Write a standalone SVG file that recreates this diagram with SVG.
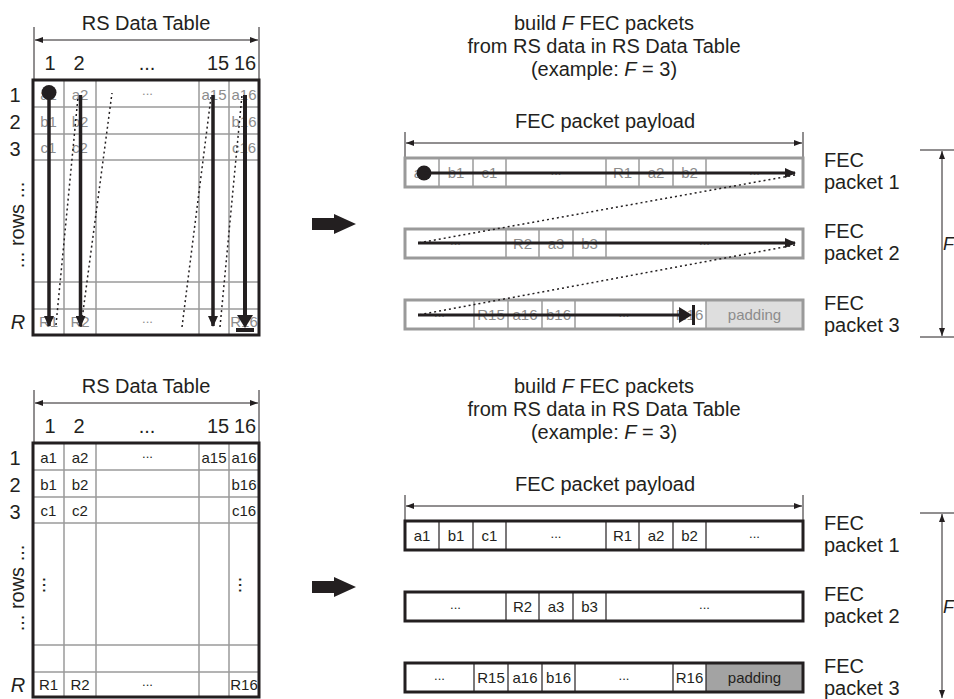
<svg xmlns="http://www.w3.org/2000/svg" width="954" height="699" viewBox="0 0 954 699">
<style>
text{font-family:"Liberation Sans",Arial,sans-serif;fill:#231f20}
.big{font-size:20px}
.mid{text-anchor:middle}
.cell{font-size:15px;text-anchor:middle}
.dots{font-size:13px;text-anchor:middle}
.g{fill:#8c8c8c}
.it{font-style:italic}
.fl{font-size:18px;font-style:italic}
.grid{stroke:#9a9a9a;stroke-width:1.5;fill:none}
.frame{stroke:#231f20;stroke-width:3;fill:none}
.gframe{stroke:#9a9a9a;stroke-width:3;fill:none}
.pdiv{stroke:#9a9a9a;stroke-width:1.5}
.bdiv{stroke:#231f20;stroke-width:1.2}
.dim{stroke:#231f20;stroke-width:1;fill:none}
.flow{stroke:#231f20;stroke-width:3.5;fill:none}
.dot{stroke:#231f20;stroke-width:1.5;stroke-dasharray:2 3;fill:none}
</style>
<defs>
<marker id="dimA" markerUnits="userSpaceOnUse" markerWidth="8" markerHeight="6" refX="8" refY="3" orient="auto-start-reverse"><path d="M0,0 L8,3 L0,6 z" fill="#231f20"/></marker>
<marker id="flowA" markerUnits="userSpaceOnUse" markerWidth="11" markerHeight="10" refX="10" refY="5" orient="auto"><path d="M0,0 L11,5 L0,10 z" fill="#231f20"/></marker>
</defs>

<!-- ===== TOP HALF ===== -->
<g id="top-table">
  <text class="big mid" x="146" y="30">RS Data Table</text>
  <line class="dim" x1="34" y1="27" x2="34" y2="80"/>
  <line class="dim" x1="259" y1="27" x2="259" y2="80"/>
  <line class="dim" x1="35" y1="40" x2="258" y2="40" marker-start="url(#dimA)" marker-end="url(#dimA)"/>
  <text class="big mid" x="50" y="70">1</text>
  <text class="big mid" x="79" y="70">2</text>
  <text class="big mid" x="147" y="70">...</text>
  <text class="big mid" x="218" y="70">15</text>
  <text class="big mid" x="245" y="70">16</text>
  <text class="big mid" x="15" y="102">1</text>
  <text class="big mid" x="15" y="129">2</text>
  <text class="big mid" x="15" y="156">3</text>
  <text class="big mid" transform="translate(24,225) rotate(-90)">... rows ...</text>
  <text class="big mid it" x="18" y="329">R</text>
  <g class="grid">
    <line x1="64" y1="80" x2="64" y2="335"/><line x1="96" y1="80" x2="96" y2="335"/>
    <line x1="199" y1="80" x2="199" y2="335"/><line x1="229" y1="80" x2="229" y2="335"/>
    <line x1="33" y1="107" x2="259" y2="107"/><line x1="33" y1="134" x2="259" y2="134"/>
    <line x1="33" y1="160" x2="259" y2="160"/><line x1="33" y1="282" x2="259" y2="282"/>
    <line x1="33" y1="309" x2="259" y2="309"/>
  </g>
  <g class="g">
    <text class="cell g" x="48.5" y="100">a1</text><text class="cell g" x="80" y="100">a2</text>
    <text class="dots g" x="147.5" y="95">...</text>
    <text class="cell g" x="214" y="100">a15</text><text class="cell g" x="244" y="100">a16</text>
    <text class="cell g" x="48.5" y="127">b1</text><text class="cell g" x="80" y="127">b2</text><text class="cell g" x="244" y="127">b16</text>
    <text class="cell g" x="48.5" y="153">c1</text><text class="cell g" x="80" y="153">c2</text><text class="cell g" x="244" y="153">c16</text>
    <text class="cell g" x="48.5" y="327">R1</text><text class="cell g" x="80" y="327">R2</text>
    <text class="dots g" x="147.5" y="323">...</text>
    <text class="cell g" x="244" y="327">R16</text>
  </g>
  <rect class="frame" x="33" y="80" width="226" height="255"/>
</g>

<g id="top-table-flow">
  <line class="dot" x1="56" y1="325" x2="78" y2="97"/>
  <line class="dot" x1="81" y1="327" x2="112" y2="93"/>
  <line class="dot" x1="182" y1="327" x2="211" y2="97"/>
  <line class="dot" x1="220" y1="327" x2="242" y2="95"/>
  <circle cx="49" cy="92.5" r="7.5" fill="#231f20"/>
  <line class="flow" x1="49" y1="92" x2="49" y2="326" marker-end="url(#flowA)"/>
  <line class="flow" x1="80.5" y1="95" x2="80.5" y2="326" marker-end="url(#flowA)"/>
  <line class="flow" x1="213" y1="95" x2="213" y2="326" marker-end="url(#flowA)"/>
  <line class="flow" x1="245" y1="95" x2="245" y2="317" style="stroke-width:4"/>
  <path d="M237,315 L253,315 L245,328 z" fill="#231f20"/>
  <rect x="236" y="328" width="18" height="4" fill="#231f20"/>
</g>

<g id="top-title">
  <text class="big mid" x="604" y="30">build <tspan class="it">F</tspan> FEC packets</text>
  <text class="big mid" x="604" y="53">from RS data in RS Data Table</text>
  <text class="big mid" x="604" y="76">(example: <tspan class="it">F</tspan> = 3)</text>
</g>

<g id="big-arrow-top">
  <path d="M312,218 L334,218 L334,214 L356,224 L334,234 L334,230 L312,230 z" fill="#231f20"/>
</g>

<g id="top-payload-dim">
  <text class="big mid" x="605" y="128">FEC packet payload</text>
  <line class="dim" x1="405" y1="132" x2="405" y2="158"/>
  <line class="dim" x1="803" y1="132" x2="803" y2="158"/>
  <line class="dim" x1="406" y1="143" x2="802" y2="143" marker-start="url(#dimA)" marker-end="url(#dimA)"/>
</g>

<g id="top-packet1">
  <rect x="405" y="158" width="398" height="29" fill="#fff"/>
  <g class="pdiv"><line x1="439" y1="158" x2="439" y2="187"/><line x1="473" y1="158" x2="473" y2="187"/><line x1="506" y1="158" x2="506" y2="187"/><line x1="606" y1="158" x2="606" y2="187"/><line x1="639" y1="158" x2="639" y2="187"/><line x1="673" y1="158" x2="673" y2="187"/><line x1="706" y1="158" x2="706" y2="187"/></g>
  <text class="cell g" x="422" y="178">a1</text><text class="cell g" x="456" y="178">b1</text><text class="cell g" x="489.5" y="178">c1</text>
  <text class="dots g" x="556" y="175">...</text>
  <text class="cell g" x="622.5" y="178">R1</text><text class="cell g" x="656" y="178">a2</text><text class="cell g" x="689.5" y="178">b2</text>
  <text class="dots g" x="754.5" y="175">...</text>
  <rect class="gframe" x="405" y="158" width="398" height="29"/>
</g>

<g id="top-packet2">
  <rect x="405" y="229" width="398" height="29" fill="#fff"/>
  <g class="pdiv"><line x1="506" y1="229" x2="506" y2="258"/><line x1="539" y1="229" x2="539" y2="258"/><line x1="573" y1="229" x2="573" y2="258"/><line x1="606" y1="229" x2="606" y2="258"/></g>
  <text class="dots g" x="455.5" y="244.5">...</text>
  <text class="cell g" x="522.5" y="249">R2</text><text class="cell g" x="556" y="249">a3</text><text class="cell g" x="589.5" y="249">b3</text>
  <text class="dots g" x="704.5" y="244.5">...</text>
  <rect class="gframe" x="405" y="229" width="398" height="29"/>
</g>

<g id="top-packet3">
  <rect x="405" y="300" width="398" height="29" fill="#fff"/>
  <rect x="706" y="300" width="97" height="29" fill="#dedede"/>
  <g class="pdiv"><line x1="474" y1="300" x2="474" y2="329"/><line x1="508" y1="300" x2="508" y2="329"/><line x1="542" y1="300" x2="542" y2="329"/><line x1="575" y1="300" x2="575" y2="329"/><line x1="673" y1="300" x2="673" y2="329"/><line x1="706" y1="300" x2="706" y2="329"/></g>
  <text class="dots g" x="439.5" y="316.5">...</text>
  <text class="cell g" x="491" y="320">R15</text><text class="cell g" x="525" y="320">a16</text><text class="cell g" x="558.5" y="320">b16</text>
  <text class="dots g" x="624" y="316.5">...</text>
  <text class="cell g" x="689.5" y="320">R16</text>
  <text class="cell g" x="754.5" y="320">padding</text>
  <rect class="gframe" x="405" y="300" width="398" height="29"/>
</g>

<g id="top-packet-flow">
  <line class="dot" x1="795" y1="175" x2="418" y2="243"/>
  <line class="dot" x1="795" y1="245" x2="418" y2="315"/>
  <circle cx="424" cy="173" r="7.5" fill="#231f20"/>
  <line class="flow" x1="424" y1="173" x2="795" y2="173" style="stroke-width:3" marker-end="url(#flowA)"/>
  <line class="flow" x1="418" y1="243" x2="795" y2="243" style="stroke-width:3" marker-end="url(#flowA)"/>
  <line class="flow" x1="418" y1="315" x2="681" y2="315" style="stroke-width:3"/>
  <path d="M679,307 L692,315 L679,323 z" fill="#231f20"/>
  <line x1="693.5" y1="305" x2="693.5" y2="325" stroke="#231f20" stroke-width="3"/>
</g>

<g id="top-labels">
  <text class="big" x="824" y="167">FEC</text><text class="big" x="824" y="189">packet 1</text>
  <text class="big" x="824" y="238">FEC</text><text class="big" x="824" y="260">packet 2</text>
  <text class="big" x="824" y="310">FEC</text><text class="big" x="824" y="332">packet 3</text>
  <line class="dim" x1="920" y1="150" x2="954" y2="150"/>
  <line class="dim" x1="920" y1="337" x2="954" y2="337"/>
  <line class="dim" x1="942" y1="151" x2="942" y2="336" marker-start="url(#dimA)" marker-end="url(#dimA)"/>
  <text class="fl" x="943" y="250">F</text>
</g>

<!-- ===== BOTTOM HALF ===== -->
<g id="bottom-table">
  <text class="big mid" x="146" y="393">RS Data Table</text>
  <line class="dim" x1="34" y1="390" x2="34" y2="443"/>
  <line class="dim" x1="259" y1="390" x2="259" y2="443"/>
  <line class="dim" x1="35" y1="403" x2="258" y2="403" marker-start="url(#dimA)" marker-end="url(#dimA)"/>
  <text class="big mid" x="50" y="433">1</text>
  <text class="big mid" x="79" y="433">2</text>
  <text class="big mid" x="147" y="433">...</text>
  <text class="big mid" x="218" y="433">15</text>
  <text class="big mid" x="245" y="433">16</text>
  <text class="big mid" x="15" y="465">1</text>
  <text class="big mid" x="15" y="492">2</text>
  <text class="big mid" x="15" y="519">3</text>
  <text class="big mid" transform="translate(24,588) rotate(-90)">... rows ...</text>
  <text class="big mid it" x="18" y="692">R</text>
  <g class="grid">
    <line x1="64" y1="443" x2="64" y2="697"/><line x1="96" y1="443" x2="96" y2="697"/>
    <line x1="199" y1="443" x2="199" y2="697"/><line x1="229" y1="443" x2="229" y2="697"/>
    <line x1="33" y1="470" x2="259" y2="470"/><line x1="33" y1="497" x2="259" y2="497"/>
    <line x1="33" y1="523" x2="259" y2="523"/><line x1="33" y1="645" x2="259" y2="645"/>
    <line x1="33" y1="672" x2="259" y2="672"/>
  </g>
  <text class="cell" x="48.5" y="463">a1</text><text class="cell" x="80" y="463">a2</text>
  <text class="dots" x="147.5" y="458">...</text>
  <text class="cell" x="214" y="463">a15</text><text class="cell" x="244" y="463">a16</text>
  <text class="cell" x="48.5" y="490">b1</text><text class="cell" x="80" y="490">b2</text><text class="cell" x="244" y="490">b16</text>
  <text class="cell" x="48.5" y="516">c1</text><text class="cell" x="80" y="516">c2</text><text class="cell" x="244" y="516">c16</text>
  <text class="big mid" transform="translate(43,585) rotate(90)">...</text>
  <text class="big mid" transform="translate(239,585) rotate(90)">...</text>
  <text class="cell" x="48.5" y="690">R1</text><text class="cell" x="80" y="690">R2</text>
  <text class="dots" x="147.5" y="686">...</text>
  <text class="cell" x="244" y="690">R16</text>
  <rect class="frame" x="33" y="443" width="226" height="254"/>
</g>

<g id="bottom-title">
  <text class="big mid" x="604" y="393">build <tspan class="it">F</tspan> FEC packets</text>
  <text class="big mid" x="604" y="416">from RS data in RS Data Table</text>
  <text class="big mid" x="604" y="439">(example: <tspan class="it">F</tspan> = 3)</text>
</g>

<g id="big-arrow-bottom">
  <path d="M312,581 L334,581 L334,577 L356,587 L334,597 L334,593 L312,593 z" fill="#231f20"/>
</g>

<g id="bottom-payload-dim">
  <text class="big mid" x="605" y="491">FEC packet payload</text>
  <line class="dim" x1="405" y1="495" x2="405" y2="521"/>
  <line class="dim" x1="803" y1="495" x2="803" y2="521"/>
  <line class="dim" x1="406" y1="506" x2="802" y2="506" marker-start="url(#dimA)" marker-end="url(#dimA)"/>
</g>

<g id="bottom-packet1">
  <rect x="405" y="521" width="398" height="29" fill="#fff"/>
  <g class="bdiv"><line x1="439" y1="521" x2="439" y2="550"/><line x1="473" y1="521" x2="473" y2="550"/><line x1="506" y1="521" x2="506" y2="550"/><line x1="606" y1="521" x2="606" y2="550"/><line x1="639" y1="521" x2="639" y2="550"/><line x1="673" y1="521" x2="673" y2="550"/><line x1="706" y1="521" x2="706" y2="550"/></g>
  <text class="cell" x="422" y="541">a1</text><text class="cell" x="456" y="541">b1</text><text class="cell" x="489.5" y="541">c1</text>
  <text class="dots" x="556" y="538">...</text>
  <text class="cell" x="622.5" y="541">R1</text><text class="cell" x="656" y="541">a2</text><text class="cell" x="689.5" y="541">b2</text>
  <text class="dots" x="754.5" y="538">...</text>
  <rect class="frame" x="405" y="521" width="398" height="29"/>
</g>

<g id="bottom-packet2">
  <rect x="405" y="592" width="398" height="29" fill="#fff"/>
  <g class="bdiv"><line x1="506" y1="592" x2="506" y2="621"/><line x1="539" y1="592" x2="539" y2="621"/><line x1="573" y1="592" x2="573" y2="621"/><line x1="606" y1="592" x2="606" y2="621"/></g>
  <text class="dots" x="455.5" y="609">...</text>
  <text class="cell" x="522.5" y="612">R2</text><text class="cell" x="556" y="612">a3</text><text class="cell" x="589.5" y="612">b3</text>
  <text class="dots" x="704.5" y="609">...</text>
  <rect class="frame" x="405" y="592" width="398" height="29"/>
</g>

<g id="bottom-packet3">
  <rect x="405" y="663" width="398" height="29" fill="#fff"/>
  <rect x="706" y="663" width="97" height="29" fill="#a3a3a3"/>
  <g class="bdiv"><line x1="474" y1="663" x2="474" y2="692"/><line x1="508" y1="663" x2="508" y2="692"/><line x1="542" y1="663" x2="542" y2="692"/><line x1="575" y1="663" x2="575" y2="692"/><line x1="673" y1="663" x2="673" y2="692"/><line x1="706" y1="663" x2="706" y2="692"/></g>
  <text class="dots" x="439.5" y="680">...</text>
  <text class="cell" x="491" y="683">R15</text><text class="cell" x="525" y="683">a16</text><text class="cell" x="558.5" y="683">b16</text>
  <text class="dots" x="624" y="680">...</text>
  <text class="cell" x="689.5" y="683">R16</text>
  <text class="cell" x="754.5" y="683">padding</text>
  <rect class="frame" x="405" y="663" width="398" height="29"/>
</g>

<g id="bottom-labels">
  <text class="big" x="824" y="530">FEC</text><text class="big" x="824" y="552">packet 1</text>
  <text class="big" x="824" y="601">FEC</text><text class="big" x="824" y="623">packet 2</text>
  <text class="big" x="824" y="673">FEC</text><text class="big" x="824" y="695">packet 3</text>
  <line class="dim" x1="920" y1="513" x2="954" y2="513"/>
  <line class="dim" x1="942" y1="514" x2="942" y2="698" marker-start="url(#dimA)" marker-end="url(#dimA)"/>
  <text class="fl" x="943" y="613">F</text>
</g>
</svg>
